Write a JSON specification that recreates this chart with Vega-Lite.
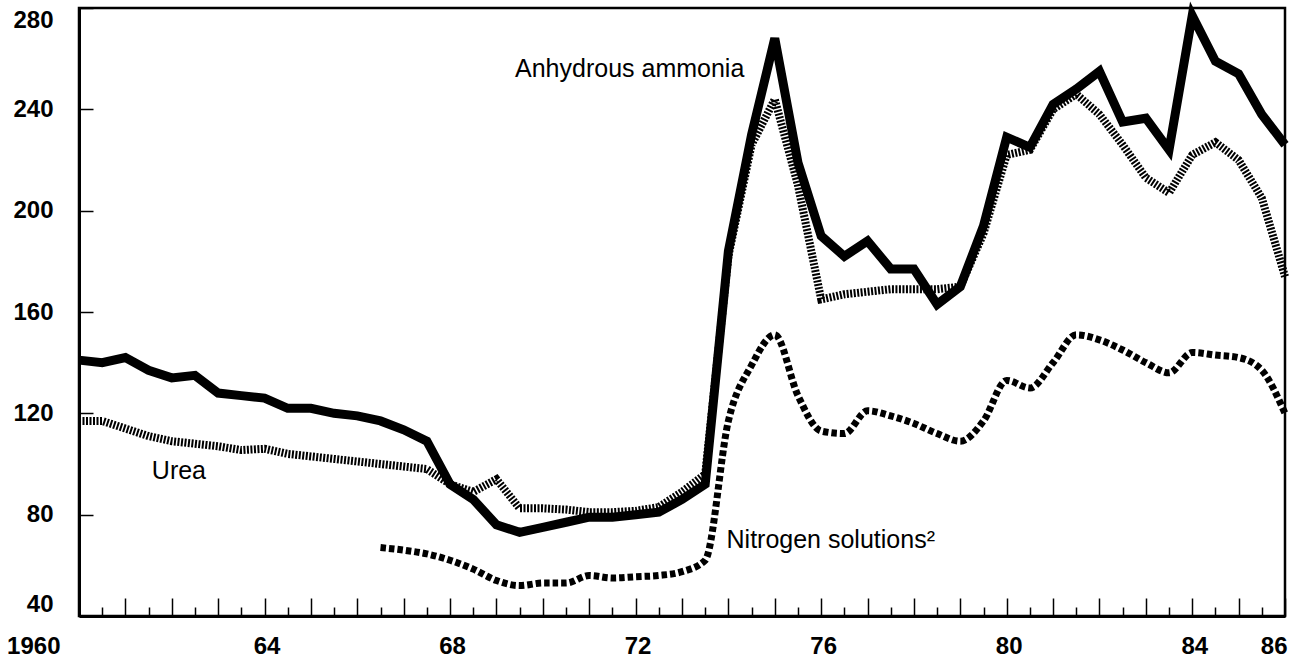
{
  "$schema": "https://vega.github.io/schema/vega-lite/v6.json",
  "width": 1206,
  "height": 608,
  "autosize": {"type": "none"},
  "padding": {"left": 79, "top": 8, "right": 5, "bottom": 52},
  "background": "white",
  "config": {"view": {"stroke": "black", "strokeWidth": 2.5}, "font": "Liberation Sans"},
  "datasets": {
    "prices": [
      {"series": "Anhydrous ammonia", "year": 1960, "value": 141},
      {"series": "Anhydrous ammonia", "year": 1960.5, "value": 140},
      {"series": "Anhydrous ammonia", "year": 1961, "value": 142},
      {"series": "Anhydrous ammonia", "year": 1961.5, "value": 137},
      {"series": "Anhydrous ammonia", "year": 1962, "value": 134},
      {"series": "Anhydrous ammonia", "year": 1962.5, "value": 135},
      {"series": "Anhydrous ammonia", "year": 1963, "value": 128},
      {"series": "Anhydrous ammonia", "year": 1963.5, "value": 127},
      {"series": "Anhydrous ammonia", "year": 1964, "value": 126},
      {"series": "Anhydrous ammonia", "year": 1964.5, "value": 122},
      {"series": "Anhydrous ammonia", "year": 1965, "value": 122},
      {"series": "Anhydrous ammonia", "year": 1965.5, "value": 120},
      {"series": "Anhydrous ammonia", "year": 1966, "value": 119},
      {"series": "Anhydrous ammonia", "year": 1966.5, "value": 117},
      {"series": "Anhydrous ammonia", "year": 1967, "value": 113.5},
      {"series": "Anhydrous ammonia", "year": 1967.5, "value": 109},
      {"series": "Anhydrous ammonia", "year": 1968, "value": 92},
      {"series": "Anhydrous ammonia", "year": 1968.5, "value": 86},
      {"series": "Anhydrous ammonia", "year": 1969, "value": 76},
      {"series": "Anhydrous ammonia", "year": 1969.5, "value": 73},
      {"series": "Anhydrous ammonia", "year": 1970, "value": 75},
      {"series": "Anhydrous ammonia", "year": 1970.5, "value": 77},
      {"series": "Anhydrous ammonia", "year": 1971, "value": 79},
      {"series": "Anhydrous ammonia", "year": 1971.5, "value": 79},
      {"series": "Anhydrous ammonia", "year": 1972, "value": 80},
      {"series": "Anhydrous ammonia", "year": 1972.5, "value": 81},
      {"series": "Anhydrous ammonia", "year": 1973, "value": 86},
      {"series": "Anhydrous ammonia", "year": 1973.5, "value": 92},
      {"series": "Anhydrous ammonia", "year": 1974, "value": 184},
      {"series": "Anhydrous ammonia", "year": 1974.5, "value": 230},
      {"series": "Anhydrous ammonia", "year": 1975, "value": 268},
      {"series": "Anhydrous ammonia", "year": 1975.5, "value": 219},
      {"series": "Anhydrous ammonia", "year": 1976, "value": 190},
      {"series": "Anhydrous ammonia", "year": 1976.5, "value": 182},
      {"series": "Anhydrous ammonia", "year": 1977, "value": 188},
      {"series": "Anhydrous ammonia", "year": 1977.5, "value": 177},
      {"series": "Anhydrous ammonia", "year": 1978, "value": 177},
      {"series": "Anhydrous ammonia", "year": 1978.5, "value": 163},
      {"series": "Anhydrous ammonia", "year": 1979, "value": 170},
      {"series": "Anhydrous ammonia", "year": 1979.5, "value": 194},
      {"series": "Anhydrous ammonia", "year": 1980, "value": 229},
      {"series": "Anhydrous ammonia", "year": 1980.5, "value": 225},
      {"series": "Anhydrous ammonia", "year": 1981, "value": 242},
      {"series": "Anhydrous ammonia", "year": 1981.5, "value": 248},
      {"series": "Anhydrous ammonia", "year": 1982, "value": 255},
      {"series": "Anhydrous ammonia", "year": 1982.5, "value": 235},
      {"series": "Anhydrous ammonia", "year": 1983, "value": 236.5},
      {"series": "Anhydrous ammonia", "year": 1983.5, "value": 224},
      {"series": "Anhydrous ammonia", "year": 1984, "value": 277},
      {"series": "Anhydrous ammonia", "year": 1984.5, "value": 259},
      {"series": "Anhydrous ammonia", "year": 1985, "value": 254},
      {"series": "Anhydrous ammonia", "year": 1985.5, "value": 238},
      {"series": "Anhydrous ammonia", "year": 1986, "value": 226},
      {"series": "Urea", "year": 1960, "value": 117},
      {"series": "Urea", "year": 1960.5, "value": 117},
      {"series": "Urea", "year": 1961, "value": 114},
      {"series": "Urea", "year": 1961.5, "value": 111},
      {"series": "Urea", "year": 1962, "value": 109},
      {"series": "Urea", "year": 1962.5, "value": 108},
      {"series": "Urea", "year": 1963, "value": 107},
      {"series": "Urea", "year": 1963.5, "value": 105.5},
      {"series": "Urea", "year": 1964, "value": 106},
      {"series": "Urea", "year": 1964.5, "value": 104},
      {"series": "Urea", "year": 1965, "value": 103},
      {"series": "Urea", "year": 1965.5, "value": 102},
      {"series": "Urea", "year": 1966, "value": 101},
      {"series": "Urea", "year": 1966.5, "value": 100},
      {"series": "Urea", "year": 1967, "value": 99},
      {"series": "Urea", "year": 1967.5, "value": 98},
      {"series": "Urea", "year": 1968, "value": 92},
      {"series": "Urea", "year": 1968.5, "value": 89},
      {"series": "Urea", "year": 1969, "value": 94},
      {"series": "Urea", "year": 1969.5, "value": 82.5},
      {"series": "Urea", "year": 1970, "value": 82.5},
      {"series": "Urea", "year": 1970.5, "value": 82},
      {"series": "Urea", "year": 1971, "value": 81},
      {"series": "Urea", "year": 1971.5, "value": 81},
      {"series": "Urea", "year": 1972, "value": 81.5},
      {"series": "Urea", "year": 1972.5, "value": 83},
      {"series": "Urea", "year": 1973, "value": 89},
      {"series": "Urea", "year": 1973.5, "value": 96},
      {"series": "Urea", "year": 1974, "value": 182},
      {"series": "Urea", "year": 1974.5, "value": 226},
      {"series": "Urea", "year": 1975, "value": 244},
      {"series": "Urea", "year": 1975.5, "value": 210},
      {"series": "Urea", "year": 1976, "value": 165},
      {"series": "Urea", "year": 1976.5, "value": 167},
      {"series": "Urea", "year": 1977, "value": 168},
      {"series": "Urea", "year": 1977.5, "value": 169},
      {"series": "Urea", "year": 1978, "value": 169},
      {"series": "Urea", "year": 1978.5, "value": 169},
      {"series": "Urea", "year": 1979, "value": 170},
      {"series": "Urea", "year": 1979.5, "value": 191},
      {"series": "Urea", "year": 1980, "value": 222},
      {"series": "Urea", "year": 1980.5, "value": 224},
      {"series": "Urea", "year": 1981, "value": 240},
      {"series": "Urea", "year": 1981.5, "value": 246},
      {"series": "Urea", "year": 1982, "value": 238},
      {"series": "Urea", "year": 1982.5, "value": 226},
      {"series": "Urea", "year": 1983, "value": 213},
      {"series": "Urea", "year": 1983.5, "value": 207},
      {"series": "Urea", "year": 1984, "value": 222},
      {"series": "Urea", "year": 1984.5, "value": 227},
      {"series": "Urea", "year": 1985, "value": 220},
      {"series": "Urea", "year": 1985.5, "value": 205},
      {"series": "Urea", "year": 1986, "value": 174},
      {"series": "Nitrogen solutions", "year": 1966.5, "value": 67},
      {"series": "Nitrogen solutions", "year": 1967, "value": 66},
      {"series": "Nitrogen solutions", "year": 1967.5, "value": 64.5},
      {"series": "Nitrogen solutions", "year": 1968, "value": 62},
      {"series": "Nitrogen solutions", "year": 1968.5, "value": 58.5},
      {"series": "Nitrogen solutions", "year": 1969, "value": 54},
      {"series": "Nitrogen solutions", "year": 1969.5, "value": 52},
      {"series": "Nitrogen solutions", "year": 1970, "value": 53},
      {"series": "Nitrogen solutions", "year": 1970.5, "value": 53},
      {"series": "Nitrogen solutions", "year": 1971, "value": 56},
      {"series": "Nitrogen solutions", "year": 1971.5, "value": 55},
      {"series": "Nitrogen solutions", "year": 1972, "value": 55.5},
      {"series": "Nitrogen solutions", "year": 1972.5, "value": 56},
      {"series": "Nitrogen solutions", "year": 1973, "value": 57.5},
      {"series": "Nitrogen solutions", "year": 1973.5, "value": 62},
      {"series": "Nitrogen solutions", "year": 1974, "value": 117},
      {"series": "Nitrogen solutions", "year": 1974.5, "value": 139},
      {"series": "Nitrogen solutions", "year": 1975, "value": 151},
      {"series": "Nitrogen solutions", "year": 1975.5, "value": 127},
      {"series": "Nitrogen solutions", "year": 1976, "value": 113},
      {"series": "Nitrogen solutions", "year": 1976.5, "value": 112},
      {"series": "Nitrogen solutions", "year": 1977, "value": 121},
      {"series": "Nitrogen solutions", "year": 1977.5, "value": 119},
      {"series": "Nitrogen solutions", "year": 1978, "value": 116},
      {"series": "Nitrogen solutions", "year": 1978.5, "value": 112},
      {"series": "Nitrogen solutions", "year": 1979, "value": 109},
      {"series": "Nitrogen solutions", "year": 1979.5, "value": 117},
      {"series": "Nitrogen solutions", "year": 1980, "value": 133},
      {"series": "Nitrogen solutions", "year": 1980.5, "value": 130},
      {"series": "Nitrogen solutions", "year": 1981, "value": 140},
      {"series": "Nitrogen solutions", "year": 1981.5, "value": 151},
      {"series": "Nitrogen solutions", "year": 1982, "value": 149},
      {"series": "Nitrogen solutions", "year": 1982.5, "value": 145},
      {"series": "Nitrogen solutions", "year": 1983, "value": 140},
      {"series": "Nitrogen solutions", "year": 1983.5, "value": 136},
      {"series": "Nitrogen solutions", "year": 1984, "value": 144},
      {"series": "Nitrogen solutions", "year": 1984.5, "value": 143},
      {"series": "Nitrogen solutions", "year": 1985, "value": 142},
      {"series": "Nitrogen solutions", "year": 1985.5, "value": 137},
      {"series": "Nitrogen solutions", "year": 1986, "value": 120}
    ],
    "labels": [
      {"label": "Anhydrous ammonia", "year": 1969.4, "value": 252.8},
      {"label": "Urea", "year": 1961.57, "value": 94},
      {"label": "Nitrogen solutions²", "year": 1973.96, "value": 66.7}
    ]
  },
  "data": {"name": "prices"},
  "encoding": {
    "x": {
      "field": "year",
      "type": "quantitative",
      "title": null,
      "scale": {"domain": [1960, 1986], "nice": false, "zero": false},
      "axis": {
        "values": [1960, 1960.5, 1961, 1961.5, 1962, 1962.5, 1963, 1963.5, 1964, 1964.5, 1965, 1965.5, 1966, 1966.5, 1967, 1967.5, 1968, 1968.5, 1969, 1969.5, 1970, 1970.5, 1971, 1971.5, 1972, 1972.5, 1973, 1973.5, 1974, 1974.5, 1975, 1975.5, 1976, 1976.5, 1977, 1977.5, 1978, 1978.5, 1979, 1979.5, 1980, 1980.5, 1981, 1981.5, 1982, 1982.5, 1983, 1983.5, 1984, 1984.5, 1985, 1985.5, 1986],
        "labelExpr": "datum.value == 1960 ? '1960' : (indexof([1964, 1968, 1972, 1976, 1980, 1984, 1986], datum.value) >= 0 ? format(datum.value - 1900, 'd') : '')",
        "tickSize": {"condition": {"test": "datum.value % 1 == 0", "value": -18}, "value": -9},
        "tickColor": "black",
        "tickWidth": 1.5,
        "domainColor": "black",
        "domainWidth": 3,
        "grid": false,
        "labelFont": "Liberation Sans",
        "labelFontSize": 24,
        "labelFontWeight": "bold",
        "labelColor": "black",
        "labelPadding": 36,
        "labelOverlap": false,
        "labelBound": false,
        "labelFlush": false,
        "labelAlign": {"condition": {"test": "datum.value == 1960 || datum.value == 1986", "value": "right"}, "value": "center"},
        "labelOffset": {"condition": {"test": "datum.value == 1960", "value": -19}, "value": 2}
      }
    },
    "y": {
      "field": "value",
      "type": "quantitative",
      "title": null,
      "scale": {"domain": [40, 280], "nice": false, "zero": false},
      "axis": {
        "values": [40, 80, 120, 160, 200, 240, 280],
        "tickSize": -14,
        "tickColor": "black",
        "tickWidth": 1.5,
        "domainColor": "black",
        "domainWidth": 3,
        "grid": false,
        "labelFont": "Liberation Sans",
        "labelFontSize": 24,
        "labelFontWeight": "bold",
        "labelColor": "black",
        "labelPadding": 40,
        "labelFlush": true,
        "labelOverlap": false,
        "labelBound": false
      }
    }
  },
  "layer": [
    {
      "transform": [{"filter": "datum.series == 'Urea'"}],
      "mark": {"type": "line", "color": "black", "strokeWidth": 8, "strokeDash": [2, 1.5], "strokeJoin": "miter"}
    },
    {
      "transform": [{"filter": "datum.series == 'Nitrogen solutions'"}],
      "mark": {"type": "line", "color": "black", "strokeWidth": 7, "strokeDash": [5.5, 3], "interpolate": "monotone"}
    },
    {
      "transform": [{"filter": "datum.series == 'Anhydrous ammonia'"}],
      "mark": {"type": "line", "color": "black", "strokeWidth": 9, "strokeJoin": "miter"}
    },
    {
      "data": {"name": "labels"},
      "mark": {"type": "text", "align": "left", "baseline": "alphabetic", "font": "Liberation Sans", "fontSize": 25, "color": "black"},
      "encoding": {"text": {"field": "label", "type": "nominal"}}
    }
  ]
}
